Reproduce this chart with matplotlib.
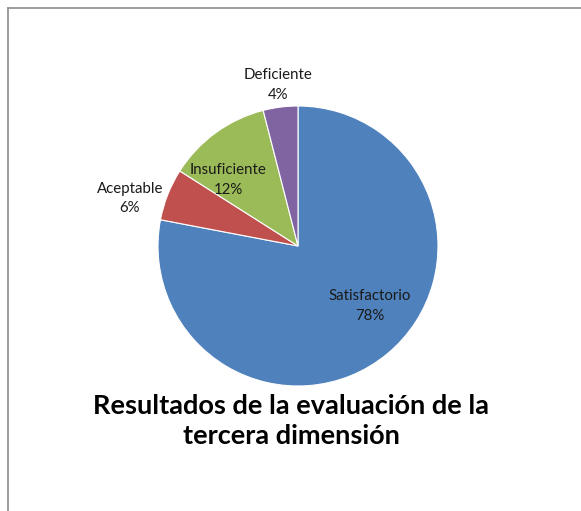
import matplotlib
matplotlib.use("Agg")
import matplotlib.pyplot as plt
from matplotlib.lines import Line2D

categories = ["Satisfactorio", "Aceptable", "Insuficiente", "Deficiente"]
values = [78, 6, 12, 4]
colors = ["#4F81BD", "#C0504D", "#9BBB59", "#8064A2"]
# label centres in data units (pie radius = 1)
label_pos = [(0.51, -0.43), (-1.20, 0.34), (-0.50, 0.47), (-0.14, 1.15)]
title = "Resultados de la evaluación de la\ntercera dimensión"

plt.rcParams["font.family"] = ["Lato", "DejaVu Sans"]

W, H = 581, 511
fig = plt.figure(figsize=(W / 100, H / 100), dpi=100, facecolor="white")

# chart frame: only top and left edges visible
fig.add_artist(Line2D([8 / W, 1], [1 - 8 / H, 1 - 8 / H], color="#8c8c8c", lw=1.2))
fig.add_artist(Line2D([8 / W, 8 / W], [0, 1 - 8 / H], color="#8c8c8c", lw=1.2))

cx, cy, r = 298, 246, 140
ax = fig.add_axes([(cx - r) / W, (H - cy - r) / H, 2 * r / W, 2 * r / H])
ax.pie(values, colors=colors, startangle=90, counterclock=False,
       wedgeprops=dict(edgecolor="white", linewidth=0.8))
ax.set_xlim(-1, 1)
ax.set_ylim(-1, 1)
ax.set_aspect("auto")
ax.axis("off")

for name, v, (lx, ly) in zip(categories, values, label_pos):
    ax.text(lx, ly, f"{name}\n{v}%", ha="center", va="center",
            fontsize=10.8, color="#1a1a1a", linespacing=1.5, clip_on=False)

fig.text(291 / W, 1 - 421 / H, title, ha="center", va="center",
         fontsize=19.5, fontweight="bold", color="black", linespacing=1.32)

fig.savefig("out.png", dpi=100, facecolor="white")
